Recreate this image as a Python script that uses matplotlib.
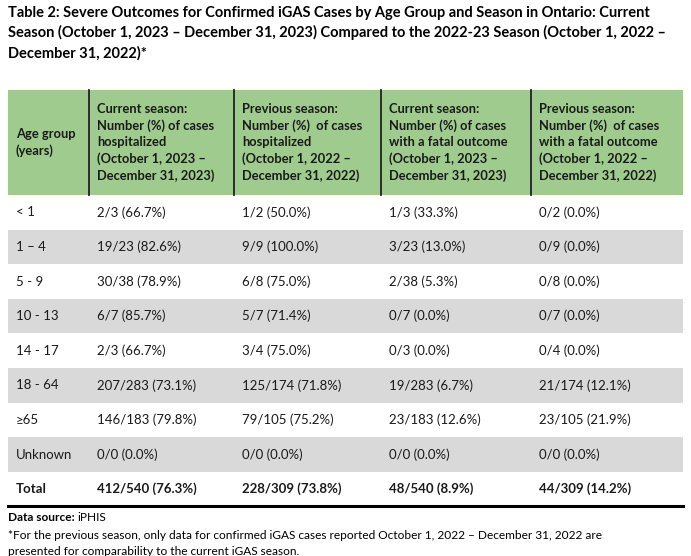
import matplotlib.pyplot as plt
from matplotlib.patches import Rectangle

title = ("Table 2: Severe Outcomes for Confirmed iGAS Cases by Age Group and Season in Ontario: Current\n"
         "Season (October 1, 2023 \u2013 December 31, 2023) Compared to the 2022-23 Season (October 1, 2022 \u2013\n"
         "December 31, 2022)*")

headers = [
    "Age group\n(years)",
    "Current season:\nNumber (%) of cases\nhospitalized\n(October 1, 2023 \u2013\nDecember 31, 2023)",
    "Previous season:\nNumber (%)  of cases\nhospitalized\n(October 1, 2022 \u2013\nDecember 31, 2022)",
    "Current season:\nNumber (%) of cases\nwith a fatal outcome\n(October 1, 2023 \u2013\nDecember 31, 2023)",
    "Previous season:\nNumber (%)  of cases\nwith a fatal outcome\n(October 1, 2022 \u2013\nDecember 31, 2022)",
]

age_groups = ["< 1", "1 \u2013 4", "5 - 9", "10 - 13", "14 - 17", "18 - 64", "\u226565", "Unknown", "Total"]
hosp_current = ["2/3 (66.7%)", "19/23 (82.6%)", "30/38 (78.9%)", "6/7 (85.7%)", "2/3 (66.7%)",
                "207/283 (73.1%)", "146/183 (79.8%)", "0/0 (0.0%)", "412/540 (76.3%)"]
hosp_previous = ["1/2 (50.0%)", "9/9 (100.0%)", "6/8 (75.0%)", "5/7 (71.4%)", "3/4 (75.0%)",
                 "125/174 (71.8%)", "79/105 (75.2%)", "0/0 (0.0%)", "228/309 (73.8%)"]
fatal_current = ["1/3 (33.3%)", "3/23 (13.0%)", "2/38 (5.3%)", "0/7 (0.0%)", "0/3 (0.0%)",
                 "19/283 (6.7%)", "23/183 (12.6%)", "0/0 (0.0%)", "48/540 (8.9%)"]
fatal_previous = ["0/2 (0.0%)", "0/9 (0.0%)", "0/8 (0.0%)", "0/7 (0.0%)", "0/4 (0.0%)",
                  "21/174 (12.1%)", "23/105 (21.9%)", "0/0 (0.0%)", "44/309 (14.2%)"]
columns = [age_groups, hosp_current, hosp_previous, fatal_current, fatal_previous]

W, H = 691, 556
fig = plt.figure(figsize=(W / 100, H / 100), dpi=100)
ax = fig.add_axes([0, 0, 1, 1])
ax.set_xlim(0, W)
ax.set_ylim(H, 0)
ax.axis('off')
plt.rcParams['font.family'] = ['Lato', 'DejaVu Sans']

# title
ax.text(8, 6, title, fontsize=10.5, fontweight='bold', va='top', ha='left', linespacing=1.45)

col_x = [8, 89, 234, 381, 531, 683]
head_top, head_bot = 90, 195
row_h = 34.6

# header
ax.add_patch(Rectangle((col_x[0], head_top), col_x[-1] - col_x[0], head_bot - head_top,
                       facecolor='#9fcc8e', edgecolor='none'))
for x in col_x[1:-1]:
    ax.plot([x, x], [head_top, head_bot], color='#222222', lw=1.3)
for i, h in enumerate(headers):
    ax.text(col_x[i] + 8, (head_top + head_bot) / 2, h, fontsize=9.3, fontweight='bold',
            va='center', ha='left', linespacing=1.4, color='#1a1a1a')

# body
for r in range(len(age_groups)):
    y0 = head_bot + r * row_h
    if r % 2 == 1:
        ax.add_patch(Rectangle((col_x[0], y0), col_x[-1] - col_x[0], row_h,
                               facecolor='#d9d9d9', edgecolor='none'))
    bold = age_groups[r] == "Total"
    for c, col in enumerate(columns):
        ax.text(col_x[c] + 8, y0 + row_h / 2, col[r], fontsize=9.5,
                fontweight='bold' if bold else 'normal', va='center', ha='left', color='#1a1a1a')

bottom = head_bot + len(age_groups) * row_h
ax.plot([col_x[0], col_x[-1]], [bottom, bottom], color='black', lw=2.2)

# footnotes
ax.text(8, bottom + 11, "Data source:", fontsize=8.6, fontweight='bold', va='center', ha='left')
ax.text(77, bottom + 11, "iPHIS", fontsize=8.6, va='center', ha='left')
ax.text(8, bottom + 29, "*For the previous season, only data for confirmed iGAS cases reported October 1, 2022 \u2013 "
        "December 31, 2022 are", fontsize=8.6, va='center', ha='left')
ax.text(8, bottom + 45, "presented for comparability to the current iGAS season.", fontsize=8.6,
        va='center', ha='left')

fig.savefig('out.png', dpi=100)
